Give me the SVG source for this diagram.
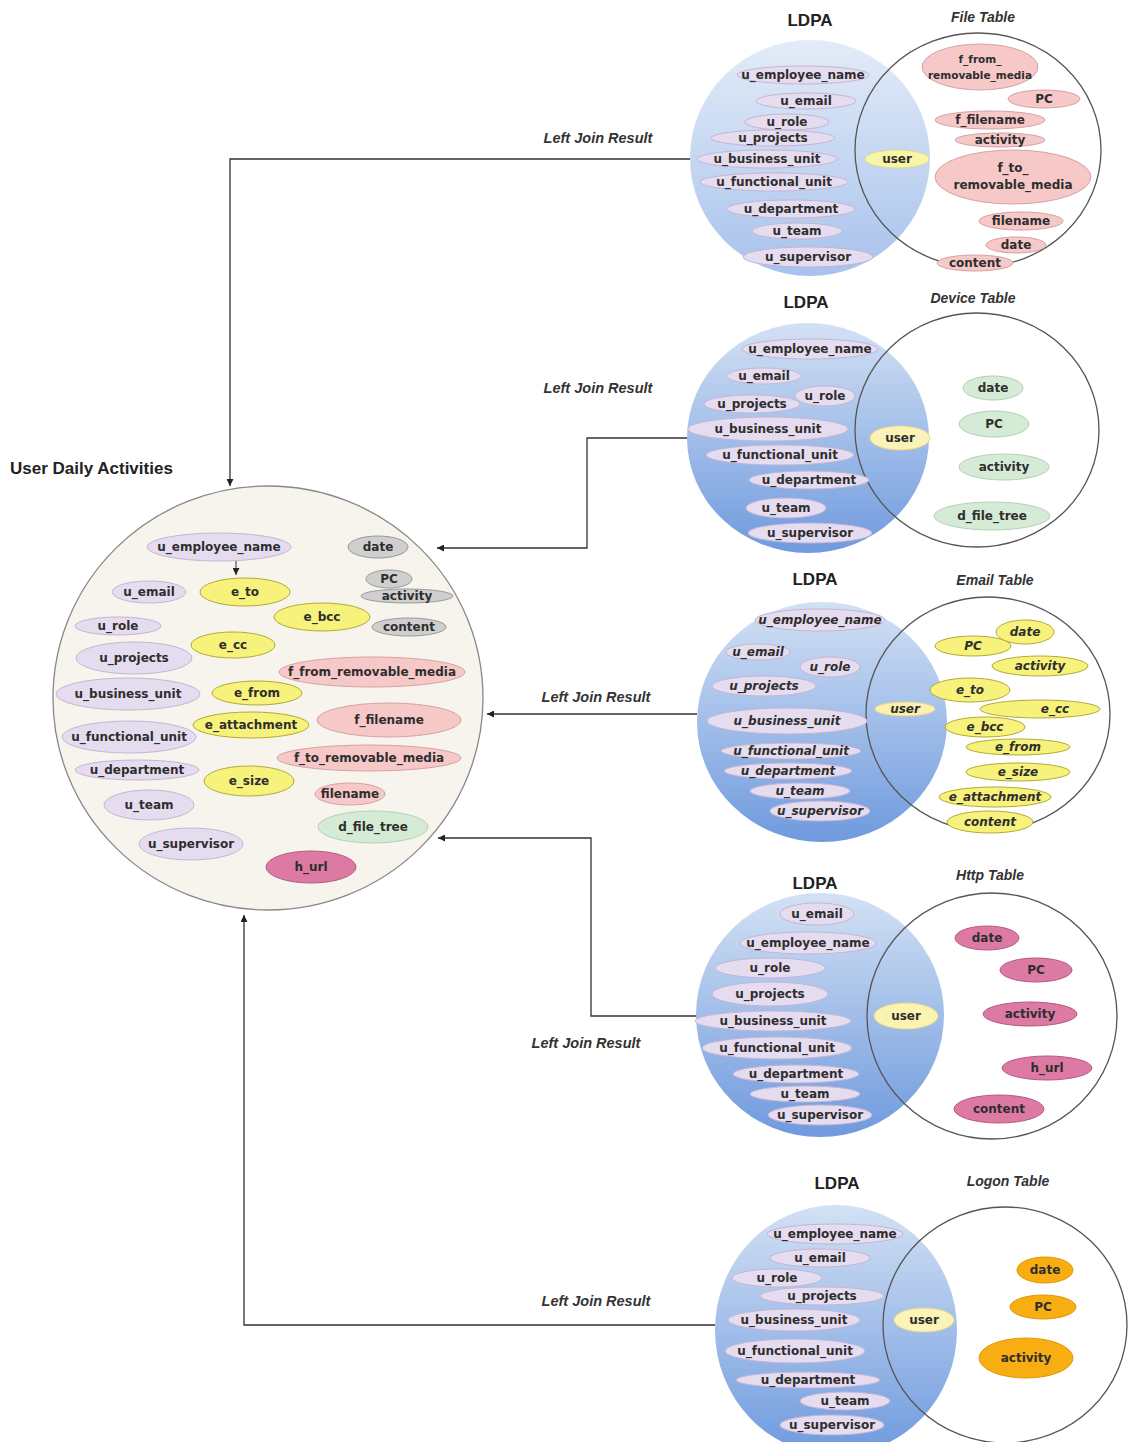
<svg xmlns="http://www.w3.org/2000/svg" width="1131" height="1442" viewBox="0 0 1131 1442">
<style>
.lav{fill:#e6dcef;stroke:#c3b6d4;stroke-width:1}
.yel{fill:#f7f27c;stroke:#b3aa36;stroke-width:1}
.pink{fill:#f6c8c8;stroke:#d6a2a2;stroke-width:1}
.mag{fill:#dc7aa3;stroke:#b55b80;stroke-width:1}
.grn{fill:#d5ebd5;stroke:#b5d0b5;stroke-width:1}
.gry{fill:#cfcfcf;stroke:#999;stroke-width:1}
.org{fill:#f8ad12;stroke:#df9800;stroke-width:1}
.t{font-family:"DejaVu Sans",sans-serif;font-weight:bold;font-size:12px;fill:#2e2e2e;text-anchor:middle;dominant-baseline:central}
.ti{font-style:italic}
.ldpa{font-family:"Liberation Sans",Arial,sans-serif;font-weight:bold;font-size:17px;fill:#222;text-anchor:middle}
.tab{font-family:"Liberation Sans",Arial,sans-serif;font-weight:bold;font-style:italic;font-size:14px;fill:#333;text-anchor:middle}
.ljr{font-family:"Liberation Sans",Arial,sans-serif;font-weight:bold;font-style:italic;font-size:14.5px;fill:#333;text-anchor:middle}
.rc{fill:none;stroke:#555;stroke-width:1.3}
.conn{fill:none;stroke:#333;stroke-width:1.3}
</style>
<defs>
<linearGradient id="blueL" x1="0" y1="0" x2="0" y2="1">
<stop offset="0" stop-color="#e3ecf8"/><stop offset="1" stop-color="#a8c2ec"/>
</linearGradient>
<linearGradient id="blueD" x1="0" y1="0" x2="0" y2="1">
<stop offset="0" stop-color="#d3e1f4"/><stop offset="1" stop-color="#6f9ade"/>
</linearGradient>
<marker id="arr" viewBox="0 0 10 10" refX="10" refY="5" markerWidth="7" markerHeight="7" orient="auto-start-reverse" markerUnits="userSpaceOnUse">
<path d="M0,0 L10,5 L0,10 z" fill="#222"/>
</marker>
</defs>
<rect width="1131" height="1442" fill="#fff"/>

<!-- Connectors -->
<g id="connectors">
<path class="conn" d="M690,159 H230 V486" marker-end="url(#arr)"/>
<path class="conn" d="M688,438 H587 V548 H437" marker-end="url(#arr)"/>
<path class="conn" d="M697,714 H487" marker-end="url(#arr)"/>
<path class="conn" d="M697,1016 H591 V838 H438" marker-end="url(#arr)"/>
<path class="conn" d="M715,1325 H244 V915" marker-end="url(#arr)"/>
<text class="ljr" x="598" y="143">Left Join Result</text>
<text class="ljr" x="598" y="393">Left Join Result</text>
<text class="ljr" x="596" y="702">Left Join Result</text>
<text class="ljr" x="586" y="1048">Left Join Result</text>
<text class="ljr" x="596" y="1306">Left Join Result</text>
</g>

<!-- User Daily Activities -->
<g id="uda">
<text x="10" y="474" font-family="Liberation Sans, Arial, sans-serif" font-weight="bold" font-size="17" fill="#222">User Daily Activities</text>
<ellipse cx="268" cy="698" rx="215" ry="212" fill="#f6f4ec" stroke="#888" stroke-width="1.3"/>
<g id="uda-u_employee_name"><ellipse class="lav" cx="219" cy="547" rx="72" ry="14"/><text class="t" x="219" y="547">u_employee_name</text></g>
<g id="uda-date"><ellipse class="gry" cx="378" cy="547" rx="30" ry="11"/><text class="t" x="378" y="547">date</text></g>
<g id="uda-u_email"><ellipse class="lav" cx="149" cy="592" rx="37" ry="11"/><text class="t" x="149" y="592">u_email</text></g>
<g id="uda-e_to"><ellipse class="yel" cx="245" cy="592" rx="45" ry="14"/><text class="t" x="245" y="592">e_to</text></g>
<g id="uda-PC"><ellipse class="gry" cx="389" cy="579" rx="23" ry="9"/><text class="t" x="389" y="579">PC</text></g>
<g id="uda-activity"><ellipse class="gry" cx="407" cy="596" rx="46" ry="7"/><text class="t" x="407" y="596">activity</text></g>
<g id="uda-e_bcc"><ellipse class="yel" cx="322" cy="617" rx="48" ry="14"/><text class="t" x="322" y="617">e_bcc</text></g>
<g id="uda-content"><ellipse class="gry" cx="409" cy="627" rx="37" ry="9"/><text class="t" x="409" y="627">content</text></g>
<g id="uda-u_role"><ellipse class="lav" cx="118" cy="626" rx="43" ry="9"/><text class="t" x="118" y="626">u_role</text></g>
<g id="uda-e_cc"><ellipse class="yel" cx="233" cy="645" rx="42" ry="13"/><text class="t" x="233" y="645">e_cc</text></g>
<g id="uda-u_projects"><ellipse class="lav" cx="134" cy="658" rx="58" ry="16"/><text class="t" x="134" y="658">u_projects</text></g>
<g id="uda-f_from_removable_media"><ellipse class="pink" cx="372" cy="672" rx="93" ry="15"/><text class="t" x="372" y="672">f_from_removable_media</text></g>
<g id="uda-u_business_unit"><ellipse class="lav" cx="128" cy="694" rx="72" ry="16"/><text class="t" x="128" y="694">u_business_unit</text></g>
<g id="uda-e_from"><ellipse class="yel" cx="257" cy="693" rx="45" ry="12"/><text class="t" x="257" y="693">e_from</text></g>
<g id="uda-e_attachment"><ellipse class="yel" cx="251" cy="725" rx="58" ry="13"/><text class="t" x="251" y="725">e_attachment</text></g>
<g id="uda-f_filename"><ellipse class="pink" cx="389" cy="720" rx="72" ry="17"/><text class="t" x="389" y="720">f_filename</text></g>
<g id="uda-u_functional_unit"><ellipse class="lav" cx="129" cy="737" rx="67" ry="16"/><text class="t" x="129" y="737">u_functional_unit</text></g>
<g id="uda-f_to_removable_media"><ellipse class="pink" cx="369" cy="758" rx="92" ry="13"/><text class="t" x="369" y="758">f_to_removable_media</text></g>
<g id="uda-u_department"><ellipse class="lav" cx="137" cy="770" rx="62" ry="10"/><text class="t" x="137" y="770">u_department</text></g>
<g id="uda-e_size"><ellipse class="yel" cx="249" cy="781" rx="45" ry="15"/><text class="t" x="249" y="781">e_size</text></g>
<g id="uda-filename"><ellipse class="pink" cx="350" cy="794" rx="35" ry="11"/><text class="t" x="350" y="794">filename</text></g>
<g id="uda-u_team"><ellipse class="lav" cx="149" cy="805" rx="45" ry="15"/><text class="t" x="149" y="805">u_team</text></g>
<g id="uda-d_file_tree"><ellipse class="grn" cx="373" cy="827" rx="55" ry="16"/><text class="t" x="373" y="827">d_file_tree</text></g>
<g id="uda-u_supervisor"><ellipse class="lav" cx="191" cy="844" rx="52" ry="16"/><text class="t" x="191" y="844">u_supervisor</text></g>
<g id="uda-h_url"><ellipse class="mag" cx="311" cy="867" rx="45" ry="16"/><text class="t" x="311" y="867">h_url</text></g>
<path class="conn" d="M236,561 V575" marker-end="url(#arr)" style="stroke-width:1"/>
</g>

<!-- Venn 1: File -->
<g id="venn-file">
<text class="ldpa" x="810" y="26">LDPA</text>
<text class="tab" x="983" y="22">File Table</text>
<ellipse cx="810" cy="158" rx="120" ry="118" fill="url(#blueL)"/>
<ellipse class="rc" cx="978" cy="150" rx="123" ry="117"/>
<g id="f-u_employee_name"><ellipse class="lav" cx="803" cy="75" rx="66" ry="9"/><text class="t" x="803" y="75">u_employee_name</text></g>
<g id="f-u_email"><ellipse class="lav" cx="806" cy="101" rx="50" ry="8"/><text class="t" x="806" y="101">u_email</text></g>
<g id="f-u_role"><ellipse class="lav" cx="787" cy="122" rx="42" ry="8"/><text class="t" x="787" y="122">u_role</text></g>
<g id="f-u_projects"><ellipse class="lav" cx="773" cy="138" rx="62" ry="8"/><text class="t" x="773" y="138">u_projects</text></g>
<g id="f-u_business_unit"><ellipse class="lav" cx="767" cy="159" rx="70" ry="9"/><text class="t" x="767" y="159">u_business_unit</text></g>
<g id="f-u_functional_unit"><ellipse class="lav" cx="774" cy="182" rx="74" ry="9"/><text class="t" x="774" y="182">u_functional_unit</text></g>
<g id="f-u_department"><ellipse class="lav" cx="791" cy="209" rx="64" ry="9"/><text class="t" x="791" y="209">u_department</text></g>
<g id="f-u_team"><ellipse class="lav" cx="797" cy="231" rx="45" ry="8"/><text class="t" x="797" y="231">u_team</text></g>
<g id="f-u_supervisor"><ellipse class="lav" cx="808" cy="257" rx="65" ry="10"/><text class="t" x="808" y="257">u_supervisor</text></g>
<g id="f-user"><ellipse class="yel" cx="897" cy="159" rx="32" ry="9" style="fill:#f8f4a8;stroke:#e0dc90"/><text class="t" x="897" y="159">user</text></g>
<g id="f-f_from_removable_media"><ellipse class="pink" cx="980" cy="67" rx="58" ry="23"/><text class="t" x="980" y="59" style="font-size:10.5px">f_from_</text><text class="t" x="980" y="75" style="font-size:10.5px">removable_media</text></g>
<g id="f-PC"><ellipse class="pink" cx="1044" cy="99" rx="36" ry="9"/><text class="t" x="1044" y="99">PC</text></g>
<g id="f-f_filename"><ellipse class="pink" cx="990" cy="120" rx="55" ry="9"/><text class="t" x="990" y="120">f_filename</text></g>
<g id="f-activity"><ellipse class="pink" cx="1000" cy="140" rx="45" ry="7"/><text class="t" x="1000" y="140">activity</text></g>
<g id="f-f_to_removable_media"><ellipse class="pink" cx="1013" cy="177" rx="78" ry="27"/><text class="t" x="1013" y="168">f_to_</text><text class="t" x="1013" y="185">removable_media</text></g>
<g id="f-filename"><ellipse class="pink" cx="1021" cy="221" rx="42" ry="9"/><text class="t" x="1021" y="221">filename</text></g>
<g id="f-date"><ellipse class="pink" cx="1016" cy="245" rx="30" ry="8"/><text class="t" x="1016" y="245">date</text></g>
<g id="f-content"><ellipse class="pink" cx="975" cy="263" rx="38" ry="8"/><text class="t" x="975" y="263">content</text></g>
</g>

<!-- Venn 2: Device -->
<g id="venn-device">
<text class="ldpa" x="806" y="308">LDPA</text>
<text class="tab" x="973" y="303">Device Table</text>
<ellipse cx="808" cy="438" rx="121" ry="115" fill="url(#blueD)"/>
<ellipse class="rc" cx="977" cy="430" rx="122" ry="117"/>
<g id="d-u_employee_name"><ellipse class="lav" cx="810" cy="349" rx="68" ry="10"/><text class="t" x="810" y="349">u_employee_name</text></g>
<g id="d-u_email"><ellipse class="lav" cx="764" cy="376" rx="37" ry="8"/><text class="t" x="764" y="376">u_email</text></g>
<g id="d-u_role"><ellipse class="lav" cx="825" cy="396" rx="30" ry="10"/><text class="t" x="825" y="396">u_role</text></g>
<g id="d-u_projects"><ellipse class="lav" cx="752" cy="404" rx="48" ry="9"/><text class="t" x="752" y="404">u_projects</text></g>
<g id="d-u_business_unit"><ellipse class="lav" cx="768" cy="429" rx="80" ry="12"/><text class="t" x="768" y="429">u_business_unit</text></g>
<g id="d-u_functional_unit"><ellipse class="lav" cx="780" cy="455" rx="74" ry="10"/><text class="t" x="780" y="455">u_functional_unit</text></g>
<g id="d-u_department"><ellipse class="lav" cx="809" cy="480" rx="60" ry="9"/><text class="t" x="809" y="480">u_department</text></g>
<g id="d-u_team"><ellipse class="lav" cx="786" cy="508" rx="40" ry="10"/><text class="t" x="786" y="508">u_team</text></g>
<g id="d-u_supervisor"><ellipse class="lav" cx="810" cy="533" rx="62" ry="10"/><text class="t" x="810" y="533">u_supervisor</text></g>
<g id="d-user"><ellipse class="yel" cx="900" cy="438" rx="30" ry="12" style="fill:#fbf2b8;stroke:#e8d890"/><text class="t" x="900" y="438">user</text></g>
<g id="d-date"><ellipse class="grn" cx="993" cy="388" rx="30" ry="12"/><text class="t" x="993" y="388">date</text></g>
<g id="d-PC"><ellipse class="grn" cx="994" cy="424" rx="35" ry="13"/><text class="t" x="994" y="424">PC</text></g>
<g id="d-activity"><ellipse class="grn" cx="1004" cy="467" rx="45" ry="13"/><text class="t" x="1004" y="467">activity</text></g>
<g id="d-d_file_tree"><ellipse class="grn" cx="992" cy="516" rx="58" ry="14"/><text class="t" x="992" y="516">d_file_tree</text></g>
</g>

<!-- Venn 3: Email -->
<g id="venn-email">
<text class="ldpa" x="815" y="585">LDPA</text>
<text class="tab" x="995" y="585">Email Table</text>
<ellipse cx="822" cy="722" rx="125" ry="120" fill="url(#blueD)"/>
<ellipse class="rc" cx="988" cy="714" rx="122" ry="117"/>
<g id="e-u_employee_name"><ellipse class="lav" cx="820" cy="620" rx="65" ry="11"/><text class="t ti" x="820" y="620">u_employee_name</text></g>
<g id="e-u_email"><ellipse class="lav" cx="758" cy="652" rx="32" ry="8"/><text class="t ti" x="758" y="652">u_email</text></g>
<g id="e-u_role"><ellipse class="lav" cx="830" cy="667" rx="30" ry="10"/><text class="t ti" x="830" y="667">u_role</text></g>
<g id="e-u_projects"><ellipse class="lav" cx="764" cy="686" rx="52" ry="10"/><text class="t ti" x="764" y="686">u_projects</text></g>
<g id="e-u_business_unit"><ellipse class="lav" cx="787" cy="721" rx="80" ry="13"/><text class="t ti" x="787" y="721">u_business_unit</text></g>
<g id="e-u_functional_unit"><ellipse class="lav" cx="791" cy="751" rx="70" ry="8"/><text class="t ti" x="791" y="751">u_functional_unit</text></g>
<g id="e-u_department"><ellipse class="lav" cx="788" cy="771" rx="64" ry="8"/><text class="t ti" x="788" y="771">u_department</text></g>
<g id="e-u_team"><ellipse class="lav" cx="800" cy="791" rx="50" ry="8"/><text class="t ti" x="800" y="791">u_team</text></g>
<g id="e-u_supervisor"><ellipse class="lav" cx="820" cy="811" rx="50" ry="10"/><text class="t ti" x="820" y="811">u_supervisor</text></g>
<g id="e-user"><ellipse class="yel" cx="905" cy="709" rx="30" ry="7" style="fill:#fbf0b0;stroke:#e8d890"/><text class="t ti" x="905" y="709">user</text></g>
<g id="e-PC"><ellipse class="yel" cx="973" cy="646" rx="38" ry="10"/><text class="t ti" x="973" y="646">PC</text></g>
<g id="e-date"><ellipse class="yel" cx="1025" cy="632" rx="29" ry="12"/><text class="t ti" x="1025" y="632">date</text></g>
<g id="e-activity"><ellipse class="yel" cx="1040" cy="666" rx="48" ry="10"/><text class="t ti" x="1040" y="666">activity</text></g>
<g id="e-e_to"><ellipse class="yel" cx="970" cy="690" rx="40" ry="12"/><text class="t ti" x="970" y="690">e_to</text></g>
<g id="e-e_cc"><ellipse class="yel" cx="1040" cy="709" rx="60" ry="9"/><text class="t ti" x="1055" y="709">e_cc</text></g>
<g id="e-e_bcc"><ellipse class="yel" cx="985" cy="727" rx="40" ry="10"/><text class="t ti" x="985" y="727">e_bcc</text></g>
<g id="e-e_from"><ellipse class="yel" cx="1018" cy="747" rx="52" ry="8"/><text class="t ti" x="1018" y="747">e_from</text></g>
<g id="e-e_size"><ellipse class="yel" cx="1018" cy="772" rx="52" ry="9"/><text class="t ti" x="1018" y="772">e_size</text></g>
<g id="e-e_attachment"><ellipse class="yel" cx="995" cy="797" rx="56" ry="10"/><text class="t ti" x="995" y="797">e_attachment</text></g>
<g id="e-content"><ellipse class="yel" cx="990" cy="822" rx="43" ry="11"/><text class="t ti" x="990" y="822">content</text></g>
</g>

<!-- Venn 4: Http -->
<g id="venn-http">
<text class="ldpa" x="815" y="889">LDPA</text>
<text class="tab" x="990" y="880">Http Table</text>
<ellipse cx="820" cy="1015" rx="124" ry="122" fill="url(#blueD)"/>
<ellipse class="rc" cx="992" cy="1016" rx="125" ry="123"/>
<g id="h-u_email"><ellipse class="lav" cx="817" cy="914" rx="37" ry="11"/><text class="t" x="817" y="914">u_email</text></g>
<g id="h-u_employee_name"><ellipse class="lav" cx="808" cy="943" rx="68" ry="11"/><text class="t" x="808" y="943">u_employee_name</text></g>
<g id="h-u_role"><ellipse class="lav" cx="770" cy="968" rx="55" ry="10"/><text class="t" x="770" y="968">u_role</text></g>
<g id="h-u_projects"><ellipse class="lav" cx="770" cy="994" rx="58" ry="12"/><text class="t" x="770" y="994">u_projects</text></g>
<g id="h-u_business_unit"><ellipse class="lav" cx="773" cy="1021" rx="78" ry="10"/><text class="t" x="773" y="1021">u_business_unit</text></g>
<g id="h-u_functional_unit"><ellipse class="lav" cx="777" cy="1048" rx="75" ry="11"/><text class="t" x="777" y="1048">u_functional_unit</text></g>
<g id="h-u_department"><ellipse class="lav" cx="796" cy="1074" rx="63" ry="9"/><text class="t" x="796" y="1074">u_department</text></g>
<g id="h-u_team"><ellipse class="lav" cx="805" cy="1094" rx="55" ry="8"/><text class="t" x="805" y="1094">u_team</text></g>
<g id="h-u_supervisor"><ellipse class="lav" cx="820" cy="1115" rx="52" ry="10"/><text class="t" x="820" y="1115">u_supervisor</text></g>
<g id="h-user"><ellipse class="yel" cx="906" cy="1016" rx="32" ry="13" style="fill:#fbf4b0;stroke:#e8d890"/><text class="t" x="906" y="1016">user</text></g>
<g id="h-date"><ellipse class="mag" cx="987" cy="938" rx="32" ry="12"/><text class="t" x="987" y="938">date</text></g>
<g id="h-PC"><ellipse class="mag" cx="1036" cy="970" rx="36" ry="12"/><text class="t" x="1036" y="970">PC</text></g>
<g id="h-activity"><ellipse class="mag" cx="1030" cy="1014" rx="47" ry="12"/><text class="t" x="1030" y="1014">activity</text></g>
<g id="h-h_url"><ellipse class="mag" cx="1047" cy="1068" rx="45" ry="12"/><text class="t" x="1047" y="1068">h_url</text></g>
<g id="h-content"><ellipse class="mag" cx="999" cy="1109" rx="45" ry="14"/><text class="t" x="999" y="1109">content</text></g>
</g>

<!-- Venn 5: Logon -->
<g id="venn-logon">
<text class="ldpa" x="837" y="1189">LDPA</text>
<text class="tab" x="1008" y="1186">Logon Table</text>
<ellipse cx="836" cy="1330" rx="121" ry="125" fill="url(#blueD)"/>
<ellipse class="rc" cx="1005" cy="1325" rx="122" ry="118"/>
<g id="l-u_employee_name"><ellipse class="lav" cx="835" cy="1234" rx="68" ry="10"/><text class="t" x="835" y="1234">u_employee_name</text></g>
<g id="l-u_email"><ellipse class="lav" cx="820" cy="1258" rx="50" ry="9"/><text class="t" x="820" y="1258">u_email</text></g>
<g id="l-u_role"><ellipse class="lav" cx="777" cy="1278" rx="45" ry="9"/><text class="t" x="777" y="1278">u_role</text></g>
<g id="l-u_projects"><ellipse class="lav" cx="822" cy="1296" rx="62" ry="9"/><text class="t" x="822" y="1296">u_projects</text></g>
<g id="l-u_business_unit"><ellipse class="lav" cx="794" cy="1320" rx="66" ry="11"/><text class="t" x="794" y="1320">u_business_unit</text></g>
<g id="l-u_functional_unit"><ellipse class="lav" cx="795" cy="1351" rx="70" ry="12"/><text class="t" x="795" y="1351">u_functional_unit</text></g>
<g id="l-u_department"><ellipse class="lav" cx="808" cy="1380" rx="72" ry="8"/><text class="t" x="808" y="1380">u_department</text></g>
<g id="l-u_team"><ellipse class="lav" cx="845" cy="1401" rx="45" ry="9"/><text class="t" x="845" y="1401">u_team</text></g>
<g id="l-u_supervisor"><ellipse class="lav" cx="832" cy="1425" rx="52" ry="10"/><text class="t" x="832" y="1425">u_supervisor</text></g>
<g id="l-user"><ellipse class="yel" cx="924" cy="1320" rx="30" ry="12" style="fill:#fbf4b8;stroke:#e8d890"/><text class="t" x="924" y="1320">user</text></g>
<g id="l-date"><ellipse class="org" cx="1045" cy="1270" rx="28" ry="13"/><text class="t" x="1045" y="1270">date</text></g>
<g id="l-PC"><ellipse class="org" cx="1043" cy="1307" rx="33" ry="12"/><text class="t" x="1043" y="1307">PC</text></g>
<g id="l-activity"><ellipse class="org" cx="1026" cy="1358" rx="47" ry="20"/><text class="t" x="1026" y="1358">activity</text></g>
</g>
</svg>
